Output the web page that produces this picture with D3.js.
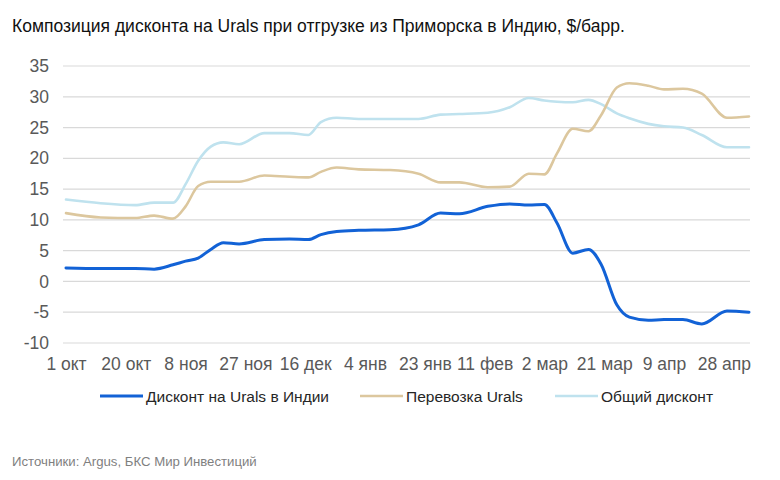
<!DOCTYPE html>
<html>
<head>
<meta charset="utf-8">
<script src="https://cdn.jsdelivr.net/npm/d3@7"></script>
<style>
  body { margin: 0; background: #fff; }
  svg { font-family: "Liberation Sans", Arial, sans-serif; }
  .axis text { fill: #595959; font-size: 17.5px; }
  .axis path, .axis line { display: none; }
</style>
</head>
<body>
<svg id="chart" width="780" height="480"></svg>
<script>
var dates = ['2022-10-01', '2022-10-12', '2022-10-23', '2022-10-29', '2022-11-04', '2022-11-08',
  '2022-11-12', '2022-11-16', '2022-11-20', '2022-11-25', '2022-12-03', '2022-12-11',
  '2022-12-17', '2022-12-21', '2022-12-26', '2023-01-02', '2023-01-12', '2023-01-21',
  '2023-01-28', '2023-02-03', '2023-02-12', '2023-02-19', '2023-02-25', '2023-03-02',
  '2023-03-06', '2023-03-11', '2023-03-16', '2023-03-20', '2023-03-25', '2023-03-29',
  '2023-04-04', '2023-04-09', '2023-04-15', '2023-04-21', '2023-04-29', '2023-05-06'];

var discountIndia = [2.2, 2.1, 2.1, 2.0, 2.7, 3.3, 3.8, 5.2, 6.3, 6.1, 6.8, 6.9,
  6.8, 7.6, 8.1, 8.3, 8.4, 9.2, 11.1, 11.0, 12.2, 12.6, 12.4, 12.5,
  9.5, 4.6, 5.2, 2.8, -3.8, -5.8, -6.3, -6.2, -6.2, -6.9, -4.8, -5.0];

var freight = [11.1, 10.4, 10.3, 10.7, 10.2, 12.2, 15.5, 16.2, 16.2, 16.2, 17.2, 17.0,
  16.9, 17.8, 18.5, 18.2, 18.1, 17.5, 16.1, 16.1, 15.3, 15.4, 17.5, 17.4,
  20.8, 24.8, 24.4, 27.0, 31.5, 32.2, 31.8, 31.2, 31.3, 30.5, 26.6, 26.8];

var totalDiscount = [13.3, 12.7, 12.4, 12.8, 12.8, 15.8, 19.6, 21.9, 22.6, 22.3, 24.1, 24.1,
  23.8, 25.9, 26.6, 26.4, 26.4, 26.4, 27.1, 27.2, 27.4, 28.3, 29.8, 29.4,
  29.2, 29.1, 29.5, 28.8, 27.3, 26.5, 25.6, 25.2, 25.0, 23.8, 21.8, 21.8];

var seriesNames = ['Дисконт на Urals в Индии', 'Перевозка Urals', 'Общий дисконт'];
var seriesColors = ['#1262d6', '#dcc79e', '#bfe2ee'];

var tickDates = ['2022-10-01', '2022-10-20', '2022-11-08', '2022-11-27', '2022-12-16', '2023-01-04',
  '2023-01-23', '2023-02-11', '2023-03-02', '2023-03-21', '2023-04-09', '2023-04-28'];
var tickLabels = ['1 окт', '20 окт', '8 ноя', '27 ноя', '16 дек', '4 янв',
  '23 янв', '11 фев', '2 мар', '21 мар', '9 апр', '28 апр'];
var yTicks = [-10, -5, 0, 5, 10, 15, 20, 25, 30, 35];

var parse = d3.timeParse('%Y-%m-%d');
var svg = d3.select('#chart');

var xScale = d3.scaleTime()
  .domain([parse('2022-10-01'), parse('2023-05-06')])
  .range([66, 749]);
var yScale = d3.scaleLinear()
  .domain([-10, 35])
  .range([343, 66]);

// title
svg.append('text')
  .attr('x', 12)
  .attr('y', 32)
  .style('font-size', '17.5px')
  .attr('fill', '#111')
  .text('Композиция дисконта на Urals при отгрузке из Приморска в Индию, $/барр.');

// gridlines
svg.append('g')
  .selectAll('line')
  .data(yTicks)
  .enter()
  .append('line')
  .attr('x1', 63)
  .attr('x2', 750)
  .attr('y1', function (d) { return yScale(d); })
  .attr('y2', function (d) { return yScale(d); })
  .attr('stroke', '#d9d9d9')
  .attr('stroke-width', 1.2);

var yAxis = d3.axisLeft(yScale)
  .tickValues(yTicks)
  .tickSize(0)
  .tickPadding(0)
  .tickFormat(function (d) { return String(d); }); // plain hyphen, as in the picture
svg.append('g')
  .attr('class', 'axis')
  .attr('transform', 'translate(49, 0)')
  .call(yAxis);

var xAxis = d3.axisBottom(xScale)
  .tickValues(tickDates.map(parse))
  .tickSize(0)
  .tickPadding(0)
  .tickFormat(function (d, i) { return tickLabels[i]; });
svg.append('g')
  .attr('class', 'axis')
  .attr('transform', 'translate(0, 358)')
  .call(xAxis);

var line = d3.line()
  .x(function (d) { return xScale(d.date); })
  .y(function (d) { return yScale(d.value); })
  .curve(d3.curveMonotoneX);

var allSeries = [discountIndia, freight, totalDiscount];
var widths = [3, 2.6, 2.6];

// draw back to front: light, tan, blue
[2, 1, 0].forEach(function (k) {
  var pts = dates.map(function (d, i) {
    return { date: parse(d), value: allSeries[k][i] };
  });
  svg.append('path')
    .datum(pts)
    .attr('fill', 'none')
    .attr('stroke', seriesColors[k])
    .attr('stroke-width', widths[k])
    .attr('stroke-linejoin', 'round')
    .attr('stroke-linecap', 'round')
    .attr('d', line);
});

// legend
var legendX = [100, 360, 555];
var legend = svg.append('g');
seriesNames.forEach(function (name, k) {
  legend.append('line')
    .attr('x1', legendX[k])
    .attr('x2', legendX[k] + 43)
    .attr('y1', 396)
    .attr('y2', 396)
    .attr('stroke', seriesColors[k])
    .attr('stroke-width', widths[k]);
  legend.append('text')
    .attr('x', legendX[k] + 46)
    .attr('y', 401.5)
    .style('font-size', '15.5px')
    .attr('fill', '#262626')
    .text(name);
});

// source
svg.append('text')
  .attr('x', 12)
  .attr('y', 466)
  .style('font-size', '13.2px')
  .attr('fill', '#7f7f7f')
  .text('Источники: Argus, БКС Мир Инвестиций');
</script>
</body>
</html>
